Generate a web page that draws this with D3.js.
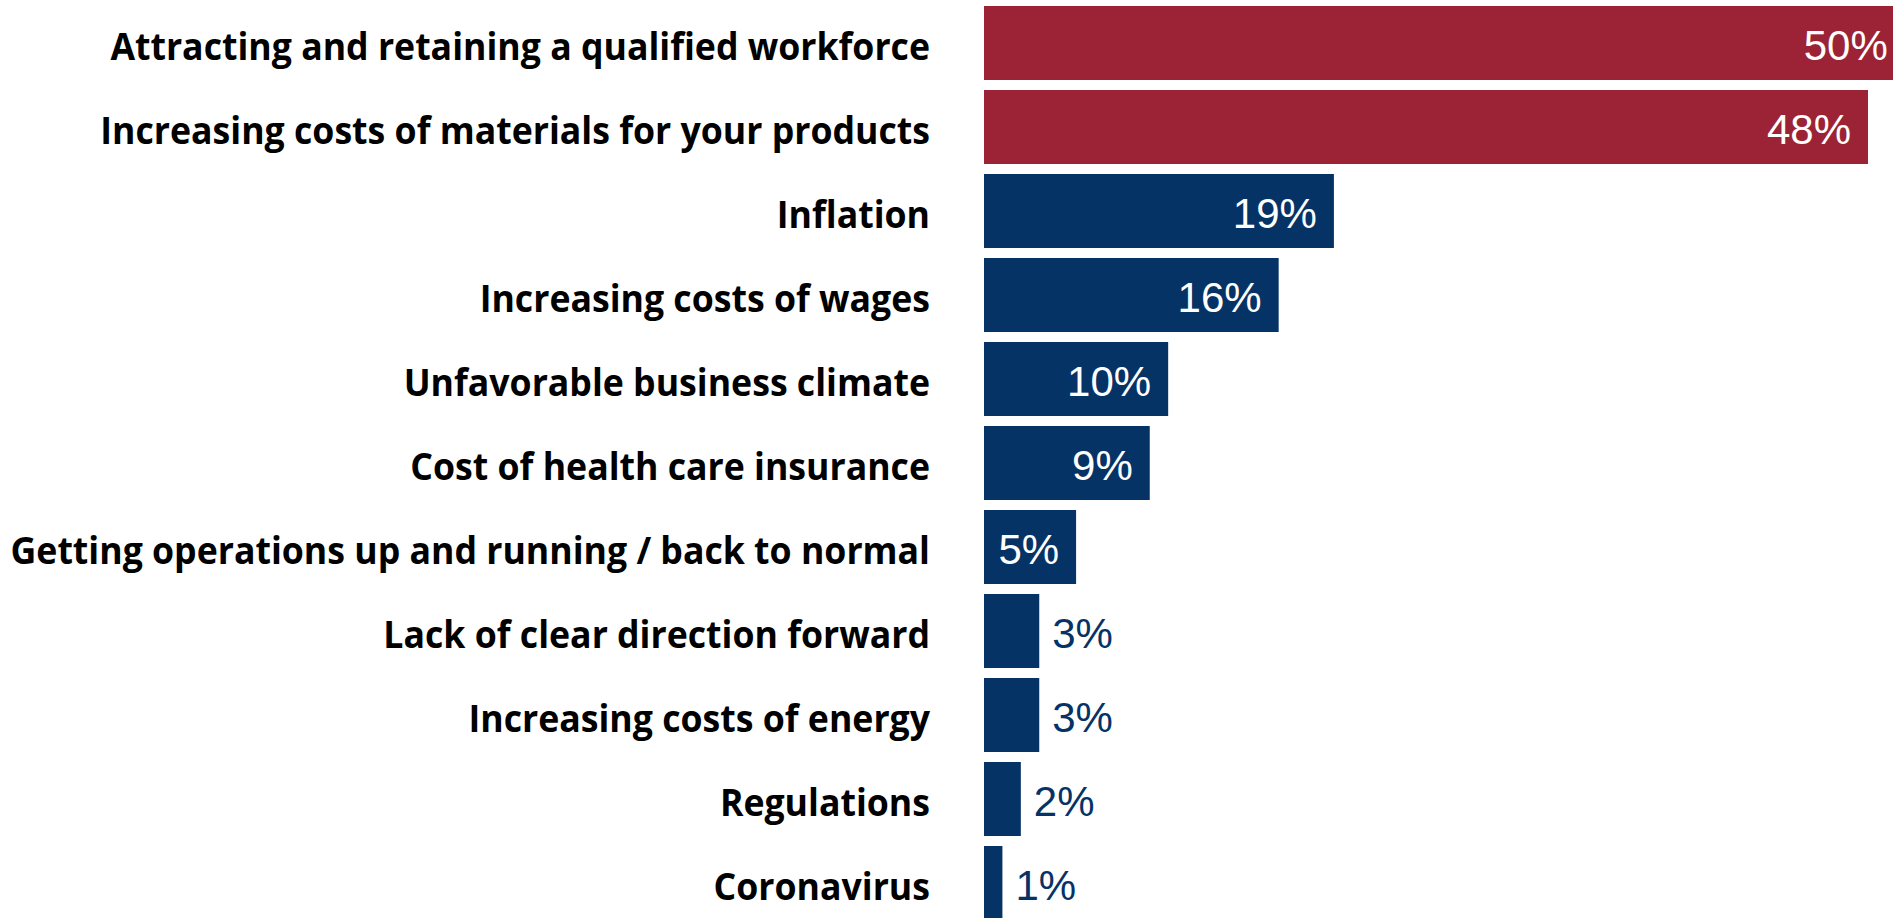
<!DOCTYPE html>
<html>
<head>
<meta charset="utf-8">
<script src="https://cdn.jsdelivr.net/npm/d3@7"></script>
<style>
  html, body { margin: 0; padding: 0; background: #fff; overflow: hidden; }
</style>
</head>
<body>
<div id="chart"></div>
<script>
// chart data
const categories = [
  "Attracting and retaining a qualified workforce",
  "Increasing costs of materials for your products",
  "Inflation",
  "Increasing costs of wages",
  "Unfavorable business climate",
  "Cost of health care insurance",
  "Getting operations up and running / back to normal",
  "Lack of clear direction forward",
  "Increasing costs of energy",
  "Regulations",
  "Coronavirus"
];
const values = [50, 48, 19, 16, 10, 9, 5, 3, 3, 2, 1];
const highlighted = [true, true, false, false, false, false, false, false, false, false, false];

const width = 1893;
const height = 918;
const barLeft = 984;
const labelRight = 930;

const red = "#9b2335";
const navy = "#063366";

const svg = d3.select("#chart")
    .append("svg")
    .attr("width", width)
    .attr("height", height);

const x = d3.scaleLinear()
    .domain([0, 48])
    .range([barLeft, barLeft + 884]);

const y = d3.scaleBand()
    .domain(categories)
    .range([1, 925])
    .paddingInner(10 / 84)
    .paddingOuter(5 / 84);

const data = categories.map((c, i) => ({ cat: c, value: values[i], hi: highlighted[i] }));

// bars
svg.selectAll(".bar")
    .data(data)
    .join("rect")
    .attr("class", "bar")
    .attr("x", x(0))
    .attr("y", d => y(d.cat))
    .attr("width", d => x(d.value) - x(0))
    .attr("height", y.bandwidth())
    .attr("fill", d => d.hi ? red : navy);

// category labels, condensed a bit to mimic the narrow bold font
const labels = svg.append("g").attr("class", "labels");
labels.selectAll("text")
    .data(data)
    .join("text")
    .attr("x", 0)
    .attr("y", d => y(d.cat) + y.bandwidth() / 2 + 17)
    .attr("text-anchor", "end")
    .style("font-family", "'Open Sans', 'DejaVu Sans', sans-serif")
    .style("font-weight", "bold")
    .style("font-size", "38px")
    .style("fill", "#000")
    .text(d => d.cat);

let maxW = 0;
labels.selectAll("text").each(function () {
  maxW = Math.max(maxW, this.getComputedTextLength());
});
const sx = (labelRight - 10) / maxW;
labels.attr("transform", `translate(${labelRight},0) scale(${sx},1)`);

// value labels: inside (white) for big bars, outside (navy) for small ones
svg.selectAll(".val")
    .data(data)
    .join("text")
    .attr("class", "val")
    .attr("x", d => d.value >= 5 ? x(d.value) - 17 : x(d.value) + 13)
    .attr("y", d => y(d.cat) + y.bandwidth() / 2 + 17)
    .attr("text-anchor", d => d.value >= 5 ? "end" : "start")
    .style("font-family", "'Liberation Sans', Arial, sans-serif")
    .style("font-size", "42px")
    .style("fill", d => d.value >= 5 ? "#fff" : navy)
    .text(d => d.value + "%");
</script>
</body>
</html>
